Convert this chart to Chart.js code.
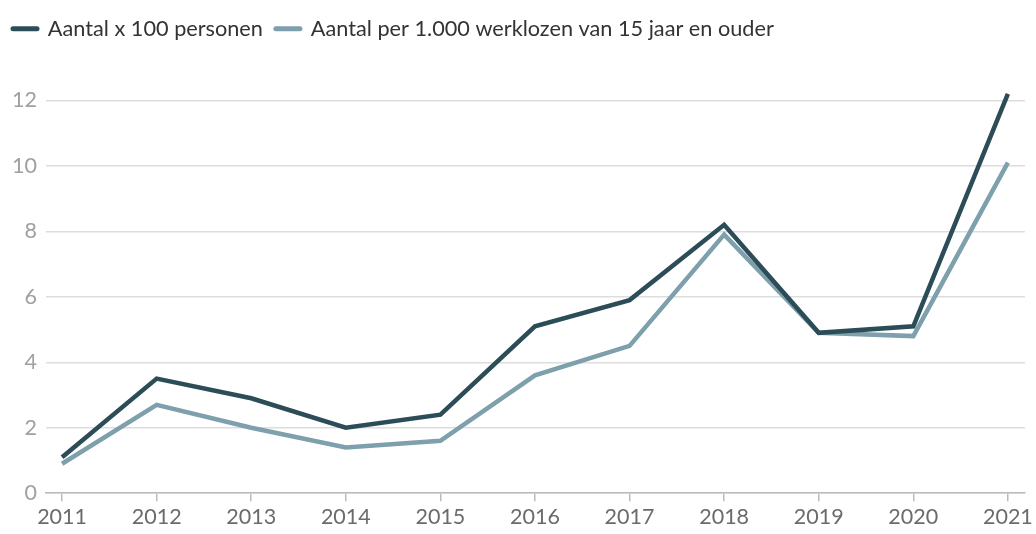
<!DOCTYPE html>
<html>
<head>
<meta charset="utf-8">
<script src="https://cdn.jsdelivr.net/npm/chart.js@4/dist/chart.umd.min.js"></script>
<style>
html,body{margin:0;padding:0;background:#fff;}
#wrap{width:1036px;height:534px;position:relative;}
</style>
</head>
<body>
<div id="wrap"><canvas id="c" width="1036" height="534"></canvas></div>
<script>
const years = [2011, 2012, 2013, 2014, 2015, 2016, 2017, 2018, 2019, 2020, 2021];
const seriesNames = ['Aantal x 100 personen', 'Aantal per 1.000 werklozen van 15 jaar en ouder'];
const personen = [1.1, 3.5, 2.9, 2.0, 2.4, 5.1, 5.9, 8.2, 4.9, 5.1, 12.2];
const perDuizend = [0.9, 2.7, 2.0, 1.4, 1.6, 3.6, 4.5, 7.9, 4.9, 4.8, 10.1];
const yTicks = [0, 2, 4, 6, 8, 10, 12];

const toPts = arr => arr.map((v, i) => ({x: years[i], y: v}));
const FONT = 'Lato, "Open Sans", sans-serif';

new Chart(document.getElementById('c'), {
  type: 'line',
  data: {
    datasets: [
      {label: seriesNames[0], data: toPts(personen), borderColor: '#2c4d58', backgroundColor: '#2c4d58', borderWidth: 4.5, pointRadius: 0, tension: 0},
      {label: seriesNames[1], data: toPts(perDuizend), borderColor: '#7e9fac', backgroundColor: '#7e9fac', borderWidth: 4.5, pointRadius: 0, tension: 0}
    ]
  },
  options: {
    responsive: false,
    animation: false,
    layout: {padding: {top: 5, right: 10, left: 0, bottom: 1}},
    plugins: {
      tooltip: {enabled: false},
      legend: {
        position: 'top',
        align: 'start',
        labels: {
          usePointStyle: true,
          pointStyle: 'line',
          pointStyleWidth: 24,
          padding: 13,
          color: '#333',
          font: {family: FONT, size: 21.7},
          generateLabels: (chart) => {
            const items = Chart.defaults.plugins.legend.labels.generateLabels(chart);
            items.forEach(it => { it.lineCap = 'round'; it.lineWidth = 5; it.pointStyle = 'line'; });
            return items;
          }
        }
      }
    },
    scales: {
      x: {
        type: 'linear',
        min: 2010.83,
        max: 2021.18,
        afterBuildTicks: (s) => { s.ticks = years.map(v => ({value: v})); },
        ticks: {
          color: '#6b6b6b',
          font: {family: FONT, size: 21.5},
          padding: 3,
          maxRotation: 0,
          callback: v => String(v)
        },
        grid: {display: true, drawOnChartArea: false, drawTicks: true, tickLength: 8, color: '#bbb', lineWidth: 1.5},
        border: {display: true, color: '#bbb', width: 1.5}
      },
      y: {
        min: 0,
        max: 13.55,
        afterBuildTicks: (s) => { s.ticks = yTicks.map(v => ({value: v})); },
        afterFit: (s) => { s.width = 46; },
        ticks: {
          color: '#a0a0a0',
          font: {family: FONT, size: 21.5},
          padding: 9,
          callback: v => String(v)
        },
        grid: {color: '#dddddd', lineWidth: 1.5, drawTicks: false},
        border: {display: false}
      }
    }
  }
});
</script>
</body>
</html>
